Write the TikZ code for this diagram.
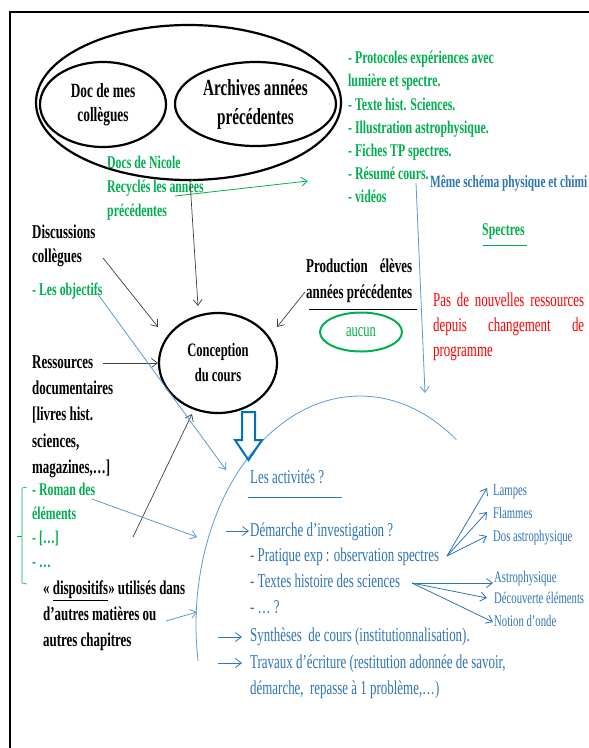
\documentclass[tikz,border=0pt]{standalone}
\usepackage{fontspec}
\setmainfont{Liberation Serif}[FakeStretch=0.66]
\usetikzlibrary{arrows.meta,shapes.geometric}
\definecolor{tgreen}{HTML}{00B050}
\definecolor{tblue}{HTML}{2E75B6}
\definecolor{lblue}{HTML}{5B9BD5}
\definecolor{dblue}{HTML}{0070C0}
\definecolor{tred}{HTML}{FF0000}
\definecolor{agray}{HTML}{404040}
\newcommand\fsz[2]{\fontsize{#1}{#2}\selectfont}
\tikzset{
  ml/.style={inner sep=0pt, anchor=north west, align=left},
  sl/.style={inner sep=0pt, anchor=base west},
  blackb/.style={text=black, font=\bfseries\fsz{19.6}{#1}}, blackb/.default=24,
  greenb/.style={text=tgreen, font=\bfseries\fsz{17.9}{#1}}, greenb/.default=24,
  bluer/.style={text=tblue, font=\fsz{19.6}{#1}}, bluer/.default=26,
  bluesm/.style={text=tblue, font=\fsz{16.2}{18}},
  garrow/.style={draw=agray, line width=0.7pt, -{Straight Barb[length=6pt,width=9pt]}},
  barrow/.style={draw=lblue, line width=0.8pt, -{Straight Barb[length=6pt,width=9pt]}},
  tarrow/.style={draw=tblue, line width=0.8pt, -{Straight Barb[length=6pt,width=9pt]}},
  grarrow/.style={draw=tgreen, line width=0.8pt, -{Straight Barb[length=6pt,width=9pt]}},
  bigell/.style={ellipse, draw=black, line width=2.2pt, inner sep=0pt, align=center},
}
\begin{document}
\begin{tikzpicture}[x=1pt,y=-1pt]
\useasboundingbox (0,0) rectangle (589,748);
\fill[white] (0,0) rectangle (589,748);
% frame
\draw[line width=2.3pt] (589,12) -- (10,12) -- (10,748);

% source ellipses
\node[bigell, minimum width=305pt, minimum height=155pt] (src) at (188.5,102.5) {};
\node[bigell, minimum width=126pt, minimum height=85pt, font=\bfseries\fsz{20.2}{24}] (doc) at (103,104.5) {Doc de mes\\collègues};
\node[bigell, minimum width=161pt, minimum height=84pt, font=\bfseries\fsz{23}{29}] (arch) at (255.5,104) {Archives années\\précédentes};

% green list
\node[ml, greenb=23.2] (gl) at (348,51) {- Protocoles expériences avec\\lumière et spectre.\\- Texte hist. Sciences.\\- Illustration astrophysique.\\- Fiches TP spectres.\\- Résumé cours.\\- vidéos};
\node[ml, greenb=24] (nic) at (107,156) {Docs de Nicole\\Recyclés les années\\précédentes};
\node[sl, text=tblue, font=\bfseries\fsz{17.2}{20}] (meme) at (430,187.2) {Même schéma physique et chimi};
\node[sl, greenb] (spec) at (482,235.4) {Spectres};
\draw[tgreen, line width=0.9pt] (483,245) -- (527,245);

% left texts
\node[ml, blackb=24] (disc) at (32,224.4) {Discussions\\collègues};
\node[sl, greenb] (obj) at (32,295.4) {- Les objectifs};
\node[ml, blackb=26.2] (res) at (32,355.4) {Ressources\\documentaires\\{[}livres hist.\\sciences,\\magazines,…]};
\node[ml, greenb=24] (rom) at (32,483) {- Roman des\\éléments\\- […]\\- …};
\draw[tgreen, line width=0.6pt] (27,487) -- (22,488) -- (22,583) -- (27,584);
\draw[tgreen, line width=0.6pt] (17,536) -- (22,536);
\node[ml, blackb=26] (dis) at (43,580.4) {«~\underline{dispositifs}» utilisés dans\\d’autres matières ou\\autres chapitres};

% production
\node[ml, blackb=26] (prod) at (306,258.4) {\makebox[106pt][s]{Production élèves}\\années précédentes};
\draw[black, line width=0.9pt] (309,309) -- (417,309);
\node[ellipse, draw=tgreen, line width=2pt, minimum width=82pt, minimum height=39pt, inner sep=0pt, text=tgreen, font=\fsz{19}{20}] (auc) at (361,332) {aucun};

% red text
\node[ml, text=tred, font=\fsz{19.6}{25}] (red) at (433,292.4) {\makebox[151pt][s]{Pas de nouvelles ressources}\\\makebox[151pt][s]{depuis changement de}\\programme};

% conception
\node[bigell, minimum width=118pt, minimum height=100pt, font=\bfseries\fsz{19}{25}] (conc) at (218,363) {Conception\\du cours};

% big arc
\draw[lblue, line width=0.8pt] plot[domain=171:306, samples=90, smooth] ({360+164*cos(\x)},{625+229*sin(\x)});

% hollow arrow
\draw[dblue, line width=2pt, line join=miter] (242,412) -- (255,412) -- (255,440) -- (262,440) -- (248.5,460) -- (235,440) -- (242,440) -- cycle;

% activities
\node[sl, bluer] (act) at (250,483.9) {Les activités ?};
\draw[tblue, line width=0.9pt] (248,497) -- (342,497);
\node[ml, bluer=25.7] (dem) at (250,522.4) {Démarche d’investigation ?\\- Pratique exp : observation spectres\\- Textes histoire des sciences\\- … ?};
\node[sl, bluer] (syn) at (250,641.9) {Synthèses~ de cours (institutionnalisation).};
\node[ml, bluer=26] (trav) at (250,654.4) {Travaux d’écriture (restitution adonnée de savoir,\\démarche,~ repasse à 1 problème,…)};

\node[sl, bluesm] (lamp) at (493,495.9) {Lampes};
\node[sl, bluesm] (flam) at (493,518.9) {Flammes};
\node[sl, bluesm] (dos) at (493,541.9) {Dos astrophysique};
\node[sl, bluesm] (astro) at (494,582.9) {Astrophysique};
\node[sl, bluesm] (dec) at (494,603.9) {Découverte éléments};
\node[sl, bluesm] (onde) at (494,626.9) {Notion d’onde};

% coordinates
\coordinate (nicA) at (175,196); \coordinate (nicB) at (308,181);
\coordinate (srcB) at (190,181); \coordinate (concT) at (198,306);
\coordinate (discA) at (103,258); \coordinate (concL) at (158,327);
\coordinate (resA) at (103,363); \coordinate (concW) at (158,363);
\coordinate (romB) at (133,537); \coordinate (concB) at (192,414);
\coordinate (prodA) at (305,292); \coordinate (concR) at (277,327);
\coordinate (objA) at (97,293); \coordinate (arcA) at (226,470);
\coordinate (romA) at (92,499); \coordinate (arcB) at (197,537);
\coordinate (disA) at (166,621); \coordinate (arcC) at (197,612);
\coordinate (resuA) at (416,183); \coordinate (resuB) at (425,393);
\coordinate (demA) at (226,531); \coordinate (demB) at (249,531);
\coordinate (synA) at (218,637); \coordinate (synB) at (242,637);
\coordinate (travA) at (218,663); \coordinate (travB) at (242,663);
\coordinate (pratA) at (447,556);
\coordinate (lampB) at (487,488); \coordinate (flamB) at (487,512); \coordinate (dosB) at (487,536);
\coordinate (textA) at (412,583);
\coordinate (astroB) at (493,583); \coordinate (decB) at (487,598); \coordinate (ondeB) at (493,622);

% arrows
\draw[grarrow] (nicA) -- (nicB);
\draw[garrow] (srcB) -- (concT);
\draw[garrow] (discA) -- (concL);
\draw[garrow] (resA) -- (concW);
\draw[garrow] (romB) -- (concB);
\draw[garrow] (prodA) -- (concR);
\draw[barrow] (objA) -- (arcA);
\draw[barrow] (romA) -- (arcB);
\draw[barrow] (disA) -- (arcC);
\draw[barrow] (resuA) -- (resuB);
\draw[tarrow] (demA) -- (demB);
\draw[tarrow] (synA) -- (synB);
\draw[tarrow] (travA) -- (travB);
\draw[tarrow] (pratA) -- (lampB);
\draw[tarrow] (pratA) -- (flamB);
\draw[tarrow] (pratA) -- (dosB);
\draw[tarrow] (textA) -- (astroB);
\draw[tarrow] (textA) -- (decB);
\draw[tarrow] (textA) -- (ondeB);
\end{tikzpicture}
\end{document}
